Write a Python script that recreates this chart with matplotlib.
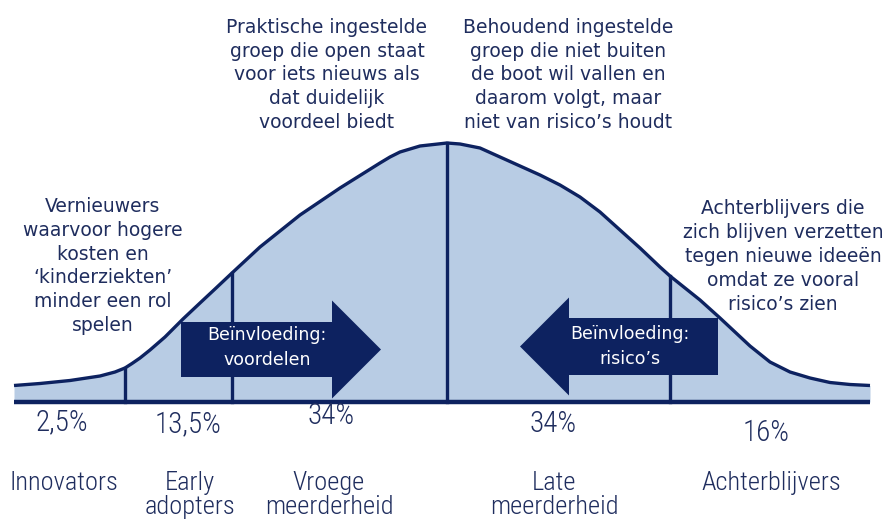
import numpy as np
import matplotlib.pyplot as plt
from matplotlib.patches import Polygon
from matplotlib import font_manager

# kleuren
NAVY = '#0d2260'
TEXT = '#1f2d5e'
FILL = '#b8cce4'

curve_x = [14, 40, 70, 100, 115, 125, 132, 140, 150, 165, 183, 200, 215, 232, 260, 300,
           340, 380, 390, 400, 420, 447, 460, 480, 500, 520, 540, 560, 580, 600, 620,
           640, 660, 670, 700, 720, 750, 770, 790, 810, 830, 850, 870]
curve_h = [16.5, 18.5, 21.5, 26, 30, 34, 38.5, 44, 52, 65, 83, 99, 113, 129, 155, 187,
           214, 239, 245, 250, 256, 259, 258, 254, 245, 236, 227, 217, 205, 190, 172,
           154, 135, 126, 102, 84, 56, 40, 30, 24, 19.5, 17.5, 16.5]

# grenzen tussen de groepen
grenzen = [125, 232, 447, 670]

percentages = ['2,5%', '13,5%', '34%', '34%', '16%']
perc_x = [62, 188, 331, 553, 766]
perc_y = [-20, -22, -14, -22, -31]

groepen = ['Innovators', 'Early\nadopters', 'Vroege\nmeerderheid',
           'Late\nmeerderheid', 'Achterblijvers']
groep_x = [64, 190, 329, 554, 771]

toelichting = [
    'Vernieuwers\nwaarvoor hogere\nkosten en\n\u2018kinderziekten\u2019\nminder een rol\nspelen',
    'Praktische ingestelde\ngroep die open staat\nvoor iets nieuws als\ndat duidelijk\nvoordeel biedt',
    'Behoudend ingestelde\ngroep die niet buiten\nde boot wil vallen en\ndaarom volgt, maar\nniet van risico\u2019s houdt',
    'Achterblijvers die\nzich blijven verzetten\ntegen nieuwe idee\u00ebn\nomdat ze vooral\nrisico\u2019s zien',
]
toel_x = [103, 327, 568, 783]
toel_y = [136, 327, 327, 145.5]

pijl_tekst = ['Be\u00efnvloeding:\nvoordelen', 'Be\u00efnvloeding:\nrisico\u2019s']


def smal_lettertype(grootte):
    # zoek een smal lettertype, anders Roboto wat kleiner
    for fam in ['Liberation Sans Narrow', 'Roboto Condensed', 'DejaVu Sans Condensed']:
        try:
            font_manager.findfont(fam, fallback_to_default=False)
            return dict(family=fam, fontsize=grootte, fontweight='light')
        except ValueError:
            pass
    fp = font_manager.FontProperties(family='DejaVu Sans', stretch='condensed')
    pad = font_manager.findfont(fp)
    if 'Condensed' in pad:
        return dict(fontproperties=font_manager.FontProperties(fname=pad, size=grootte))
    return dict(family='Roboto', fontsize=grootte - 2, fontweight='light')


def pijl(ax, x0, x1, yc, half_body, head_len, half_head):
    # pijl van x0 naar x1 (punt bij x1)
    r = 1 if x1 > x0 else -1
    xb = x1 - r * head_len
    pts = [(x0, yc - half_body), (xb, yc - half_body), (xb, yc - half_head),
           (x1, yc), (xb, yc + half_head), (xb, yc + half_body), (x0, yc + half_body)]
    ax.add_patch(Polygon(pts, closed=True, facecolor=NAVY, edgecolor='none', zorder=4))


fig = plt.figure(figsize=(8.83, 5.22), dpi=100)
ax = fig.add_axes([0, 0, 1, 1])
ax.set_xlim(0, 883)
ax.set_ylim(-120, 402)
ax.axis('off')

ax.fill_between(curve_x, 0, curve_h, color=FILL, lw=0, zorder=1)
ax.plot(curve_x, curve_h, color=NAVY, lw=2.4, solid_capstyle='butt',
        solid_joinstyle='round', zorder=3)
ax.plot([curve_x[0], curve_x[-1]], [0, 0], color=NAVY, lw=3.2, solid_capstyle='butt', zorder=3)

for g in grenzen:
    ax.plot([g, g], [0, np.interp(g, curve_x, curve_h)], color=NAVY, lw=2.4, zorder=2)

pijl(ax, 181, 381, 52.5, 27.5, 49, 49)
pijl(ax, 718, 520, 55.5, 28.5, 49, 49)
ax.text(267, 54.5, pijl_tekst[0], color='white', fontsize=12.5, ha='center', va='center',
        linespacing=1.45, zorder=5)
ax.text(630, 55.5, pijl_tekst[1], color='white', fontsize=12.5, ha='center', va='center',
        linespacing=1.45, zorder=5)

for t, x, y in zip(toelichting, toel_x, toel_y):
    ax.text(x, y, t, color=TEXT, fontsize=13.5, ha='center', va='center', linespacing=1.33)

for p, x, y in zip(percentages, perc_x, perc_y):
    ax.text(x, y, p, color=TEXT, ha='center', va='center', **smal_lettertype(21))

for g, x in zip(groepen, groep_x):
    ax.text(x, -69, g, color=TEXT, ha='center', va='top', linespacing=1.02,
            **smal_lettertype(19))

fig.savefig('out.png', dpi=100)
